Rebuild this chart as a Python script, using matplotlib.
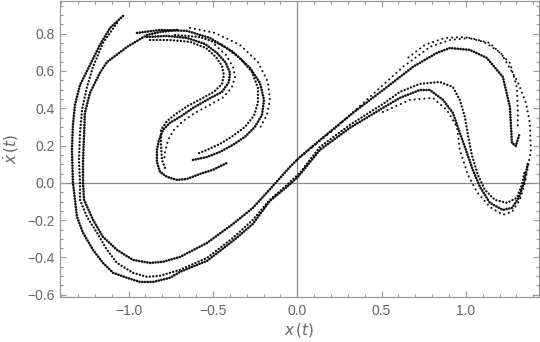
import matplotlib
matplotlib.use("Agg")
import matplotlib.pyplot as plt

# Poincare section strands (x, xdot)
left_outer_x = [-1.033, -1.110, -1.170, -1.229, -1.288, -1.318, -1.330, -1.336, -1.330, -1.306,
                -1.270, -1.211, -1.152, -1.092, -1.009, -0.932, -0.855, -0.755, -0.695, -0.535,
                -0.381, -0.263, -0.162, -0.061, 0.004, 0.135, 0.312, 0.508, 0.609, 0.727,
                0.787, 0.864, 0.923, 0.964, 1.000, 1.041, 1.083, 1.142, 1.219, 1.273,
                1.314, 1.344, 1.368]
left_outer_y = [0.895, 0.831, 0.740, 0.632, 0.525, 0.418, 0.311, 0.177, 0.000, -0.182,
                -0.268, -0.359, -0.429, -0.482, -0.509, -0.531, -0.531, -0.509, -0.477, -0.418,
                -0.311, -0.220, -0.096, -0.021, 0.032, 0.177, 0.295, 0.402, 0.456, 0.498,
                0.498, 0.445, 0.375, 0.268, 0.177, 0.070, -0.021, -0.107, -0.145, -0.134,
                -0.080, 0.000, 0.107]

left_mid_x = [-1.069, -1.152, -1.211, -1.247, -1.276, -1.288, -1.294, -1.288, -1.288, -1.247,
              -1.187, -1.128, -1.069, -0.974, -0.891, -0.814, -0.695, -0.535, -0.381, -0.263,
              -0.162, -0.061, 0.016, 0.135, 0.312, 0.508, 0.609, 0.727, 0.846, 0.923,
              0.964, 0.994, 1.012, 1.035, 1.071, 1.113, 1.172, 1.243, 1.302, 1.332, 1.350]
left_mid_y = [0.857, 0.750, 0.622, 0.514, 0.391, 0.268, 0.123, 0.000, -0.091, -0.182,
              -0.268, -0.359, -0.429, -0.482, -0.504, -0.498, -0.466, -0.402, -0.295, -0.198,
              -0.091, -0.011, 0.054, 0.193, 0.311, 0.423, 0.488, 0.531, 0.541, 0.514,
              0.445, 0.354, 0.257, 0.150, 0.043, -0.038, -0.091, -0.107, -0.080, -0.011, 0.070]

left_inner_x = [-0.713, -0.814, -0.891, -1.009, -1.128, -1.170, -1.229, -1.259, -1.264, -1.270,
                -1.270, -1.264, -1.211, -1.152, -1.069, -0.974, -0.873, -0.796, -0.695, -0.535,
                -0.381, -0.263, -0.144, -0.043, 0.016, 0.135, 0.330, 0.532, 0.686, 0.828,
                0.905, 1.024, 1.124, 1.219, 1.261, 1.273, 1.296, 1.320]
left_inner_y = [0.820, 0.809, 0.793, 0.729, 0.648, 0.590, 0.482, 0.375, 0.257, 0.123,
                0.000, -0.091, -0.198, -0.289, -0.359, -0.413, -0.429, -0.423, -0.397, -0.322,
                -0.220, -0.134, -0.016, 0.086, 0.139, 0.230, 0.375, 0.514, 0.622, 0.697,
                0.723, 0.713, 0.670, 0.568, 0.407, 0.214, 0.198, 0.268]

arch_top_x = [-0.002, 0.235, 0.431, 0.627, 0.787, 0.905, 1.024, 1.142, 1.261, 1.302, 1.308, 1.308]
arch_top_y = [0.123, 0.300, 0.461, 0.622, 0.729, 0.766, 0.777, 0.750, 0.643, 0.514, 0.391, 0.300]

arch_out_x = [0.508, 0.668, 0.804, 0.887, 0.947, 0.964, 1.012, 1.065, 1.142, 1.219, 1.273, 1.320,
              1.350, 1.373, 1.385, 1.379, 1.356, 1.308, 1.208, 1.107, 0.994, 0.875, 0.757, 0.639]
arch_out_y = [0.380, 0.445, 0.456, 0.391, 0.300, 0.177, 0.043, -0.048, -0.129, -0.171, -0.155, -0.091,
              0.000, 0.107, 0.177, 0.322, 0.429, 0.541, 0.697, 0.756, 0.782, 0.777, 0.740, 0.659]

s_band1_x = [-0.891, -0.772, -0.654, -0.547, -0.476, -0.423, -0.399, -0.405, -0.446, -0.535,
             -0.618, -0.695, -0.755, -0.796, -0.820, -0.832, -0.832, -0.814, -0.772, -0.713,
             -0.654, -0.577, -0.500, -0.417]
s_band1_y = [0.782, 0.788, 0.777, 0.745, 0.697, 0.643, 0.590, 0.541, 0.488, 0.445,
             0.402, 0.354, 0.322, 0.284, 0.230, 0.177, 0.113, 0.059, 0.032, 0.016,
             0.021, 0.048, 0.070, 0.107]

s_band2_x = [-0.873, -0.755, -0.636, -0.541, -0.482, -0.446, -0.435, -0.446, -0.494, -0.571,
             -0.648, -0.719, -0.772, -0.808, -0.808, -0.802, -0.784]
s_band2_y = [0.766, 0.766, 0.756, 0.723, 0.675, 0.627, 0.579, 0.530, 0.488, 0.450,
             0.413, 0.370, 0.332, 0.284, 0.204, 0.123, 0.080]

s_band3_x = [-0.488, -0.423, -0.381, -0.369, -0.387, -0.435, -0.518, -0.606, -0.677, -0.731,
             -0.766, -0.784, -0.790]
s_band3_y = [0.740, 0.686, 0.622, 0.568, 0.514, 0.461, 0.418, 0.375, 0.332, 0.284,
             0.230, 0.166, 0.113]

hook1_x = [-0.950, -0.814, -0.654, -0.518, -0.381, -0.280, -0.221, -0.197, -0.209, -0.251,
           -0.310, -0.381, -0.458, -0.535, -0.618]
hook1_y = [0.804, 0.820, 0.815, 0.777, 0.702, 0.616, 0.536, 0.445, 0.364, 0.300,
           0.247, 0.204, 0.166, 0.139, 0.123]

hook2_x = [-0.725, -0.577, -0.446, -0.340, -0.269, -0.233, -0.233, -0.257, -0.310, -0.381,
           -0.458, -0.535, -0.595]
hook2_y = [0.793, 0.782, 0.740, 0.670, 0.595, 0.509, 0.429, 0.359, 0.300, 0.252,
           0.209, 0.177, 0.155]

hook3_x = [-0.636, -0.488, -0.340, -0.233, -0.174, -0.162, -0.180, -0.221]
hook3_y = [0.831, 0.804, 0.740, 0.648, 0.541, 0.445, 0.364, 0.295]

xticks = [-1.0, -0.5, 0.0, 0.5, 1.0]
xtick_labels = ["\u22121.0", "\u22120.5", "0.0", "0.5", "1.0"]
yticks = [-0.6, -0.4, -0.2, 0.0, 0.2, 0.4, 0.6, 0.8]
ytick_labels = ["\u22120.6", "\u22120.4", "\u22120.2", "0.0", "0.2", "0.4", "0.6", "0.8"]

dense = dict(lw=1.9, ls=(0, (0.05, 1.0)))
medium = dict(lw=1.7, ls=(0, (0.05, 1.4)))
sparse = dict(lw=1.5, ls=(0, (0.05, 2.3)))

strands = [
    (left_outer_x, left_outer_y, dense),
    (left_mid_x, left_mid_y, medium),
    (left_inner_x, left_inner_y, dense),
    (arch_top_x, arch_top_y, sparse),
    (arch_out_x, arch_out_y, sparse),
    (s_band1_x, s_band1_y, dense),
    (s_band2_x, s_band2_y, medium),
    (s_band3_x, s_band3_y, sparse),
    (hook1_x, hook1_y, dense),
    (hook2_x, hook2_y, medium),
    (hook3_x, hook3_y, sparse),
]

plt.rcParams["font.family"] = ["Liberation Sans", "DejaVu Sans"]
plt.rcParams["mathtext.fontset"] = "dejavusans"

fig = plt.figure(figsize=(5.4, 3.42), dpi=100)
ax = fig.add_axes([0.111, 0.132, 0.887, 0.865])

grey = "#999999"
ax.axhline(0, color="#8a8a8a", lw=0.9, zorder=1)
ax.axvline(0, color="#8a8a8a", lw=0.9, zorder=1)

for xs, ys, st in strands:
    ax.plot(xs, ys, color="#111111", dash_capstyle="round", zorder=2, **st)

ax.set_xlim(-1.407, 1.433)
ax.set_ylim(-0.611, 0.975)

ax.set_xticks(xticks, xtick_labels)
ax.set_yticks(yticks, ytick_labels)
ax.set_xticks([i / 10 for i in range(-14, 15)], minor=True)
ax.set_yticks([i / 20 for i in range(-12, 20)], minor=True)

for s in ax.spines.values():
    s.set_color(grey)
    s.set_linewidth(0.9)

ax.tick_params(which="both", direction="in", top=True, right=True, color=grey, width=0.8)
ax.tick_params(which="major", length=4, labelsize=10, labelcolor="#666666")
ax.tick_params(which="minor", length=2.3)
ax.tick_params(axis="x", which="major", pad=5)
ax.tick_params(axis="y", which="major", pad=4)

ax.set_xlabel(r"$x\,(t)$", color="#666666", fontsize=11, labelpad=2)
ax.set_ylabel(r"$\dot{x}\,(t)$", color="#666666", fontsize=11, labelpad=4)

fig.savefig("out.png", dpi=100)
